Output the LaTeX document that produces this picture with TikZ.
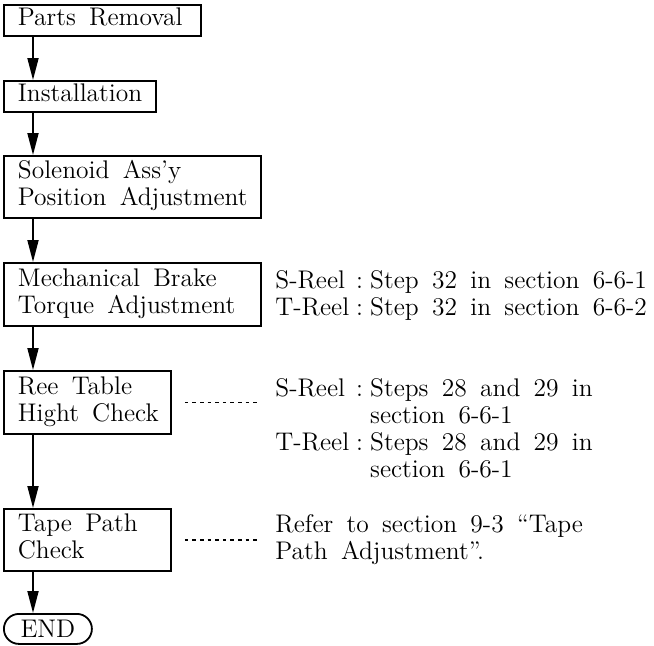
\documentclass[tikz,border=0pt]{standalone}
\usepackage{fontspec}
\setmainfont{lmroman12-regular.otf}[WordSpace=1.6]
\usetikzlibrary{arrows.meta}
\tikzset{
  stepbox/.style={draw,line width=0.9pt,anchor=north west,
    inner xsep=7pt,inner ysep=0pt},
  endbox/.style={draw,line width=0.9pt,anchor=north west,rounded corners=7.5pt,
    inner sep=0pt,minimum width=44pt,minimum height=15pt},
  flow/.style={line width=0.9pt,-{Triangle[length=11pt,width=5.5pt]}},
  leader/.style={line width=0.8pt,dash pattern=on 1.8pt off 2pt},
  reelnote/.style={anchor=base west,inner xsep=7.5pt,inner ysep=0pt}}
% one step box: name, top edge, text width, height, lines
\newcommand{\fstep}[5]{%
  \node[stepbox,minimum height=#4] (#1) at (3,#2)
    {\makebox[#3][l]{\begin{tabular}{@{}l@{}}#5\end{tabular}}};}
% the "S-Reel : ..." columns
\newenvironment{reeltab}{\begin{tabular}[t]{@{}l@{\hspace{3.5pt}}l@{\hspace{3.5pt}}l@{}}}{\end{tabular}}

\begin{document}
\begin{tikzpicture}[x=0.5pt,y=-0.5pt,font=\fontsize{12.75pt}{13.5pt}\selectfont]
  \useasboundingbox (0,0) rectangle (654,645);
  \coordinate (spine) at (33,0);
  % the steps, top to bottom
  \fstep{parts}{4}{84.5pt}{15.5pt}{Parts Removal}
  \fstep{install}{80}{62pt}{15.5pt}{Installation}
  \fstep{solenoid}{155}{114.5pt}{31pt}{Solenoid Ass’y\\Position Adjustment}
  \fstep{brake}{262}{114.5pt}{31.5pt}{Mechanical Brake\\Torque Adjustment}
  \fstep{reel}{370}{69.5pt}{31.5pt}{Ree Table\\Hight Check}
  \fstep{path}{508}{69.5pt}{31pt}{Tape Path\\Check}
  \node[endbox] (end) at (3,613) {END};
  % flow
  \draw[flow] (parts.south -| spine) -- (install.north -| spine);
  \draw[flow] (install.south -| spine) -- (solenoid.north -| spine);
  \draw[flow] (solenoid.south -| spine) -- (brake.north -| spine);
  \draw[flow] (brake.south -| spine) -- (reel.north -| spine);
  \draw[flow] (reel.south -| spine) -- (path.north -| spine);
  \draw[flow] (path.south -| spine) -- (end.north -| spine);
  % references on the right
  \node[reelnote] (brakenote) at (260,288) {\begin{reeltab}
    S-Reel & : & Step 32 in section 6-6-1\\
    T-Reel & : & Step 32 in section 6-6-2\end{reeltab}};
  \node[reelnote] (reelnote) at (260,396) {\begin{reeltab}
    S-Reel & : & Steps 28 and 29 in\\
           &   & section 6-6-1\\
    T-Reel & : & Steps 28 and 29 in\\
           &   & section 6-6-1\end{reeltab}};
  \node[reelnote] (pathnote) at (260,532) {\begin{tabular}[t]{@{}l@{}}
    Refer to section 9-3 “Tape\\
    Path Adjustment”.\end{tabular}};
  \draw[leader] ([xshift=6.5pt]reel.east) -- (reel.east -| reelnote.west);
  \draw[leader] ([xshift=6.5pt]path.east) -- (path.east -| pathnote.west);
\end{tikzpicture}
\end{document}
